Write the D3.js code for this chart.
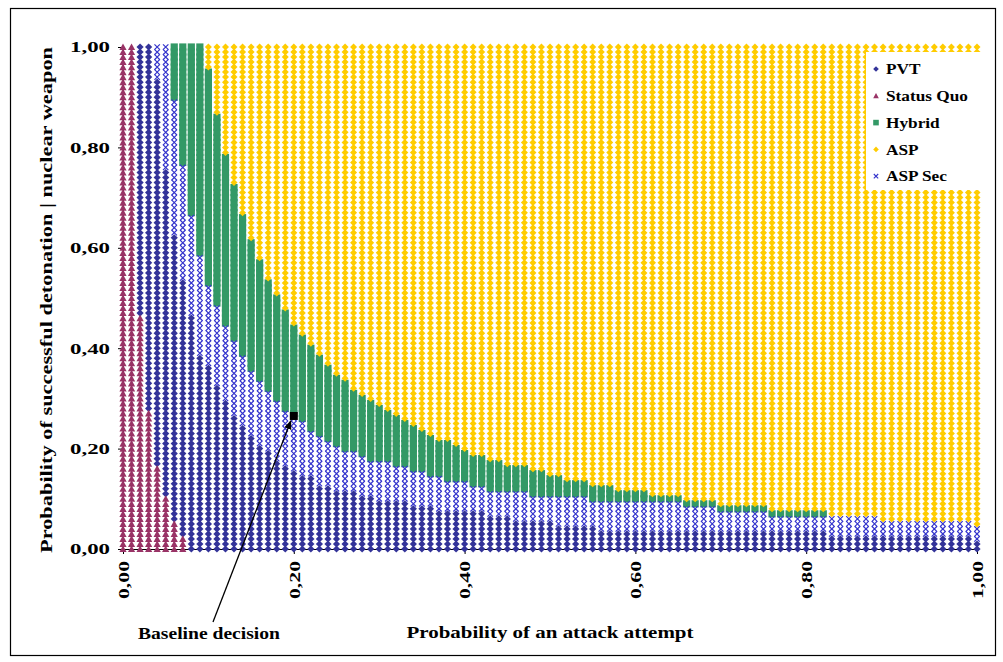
<!DOCTYPE html>
<html>
<head>
<meta charset="utf-8">
<script src="https://cdn.jsdelivr.net/npm/d3@7"></script>
<style>
  html, body { margin: 0; padding: 0; background: #fff; }
  svg { display: block; font-family: "Liberation Serif", "Times New Roman", serif; font-weight: bold; }
</style>
</head>
<body>
<svg id="chart" width="1003" height="662"></svg>
<script>
// Series, in drawing order (later ones sit on top)
const SERIES = ['PVT', 'Status Quo', 'Hybrid', 'ASP', 'ASP Sec'];
const LEGEND_ORDER = ['PVT', 'Status Quo', 'Hybrid', 'ASP', 'ASP Sec'];
const COLORS = {
  'PVT': '#333399',
  'Status Quo': '#993366',
  'Hybrid': '#339966',
  'ASP': '#ffcc00',
  'ASP Sec': '#3333cc',
};

const X_TICKS = [0, 0.2, 0.4, 0.6, 0.8, 1];
const Y_TICKS = [0, 0.2, 0.4, 0.6, 0.8, 1];

// sensitivity grid: attack probability (columns) x detonation probability (rows), step 0.01
const GRID_X = d3.range(0, 101).map(i => i / 100);
const GRID_Y = d3.range(0, 101).map(i => i / 100);

// per column: highest detonation probability where each decision is chosen
const statusQuoTop = [1.00, 1.00, 0.46, 0.27, 0.16, 0.10, 0.05, 0.02];

const pvtTop = [
  1.00, 1.00, 1.00, 1.00, 0.93, 0.75, 0.62, 0.53, 0.46, 0.38,
  0.36, 0.32, 0.29, 0.26, 0.24, 0.22, 0.20, 0.19, 0.17, 0.16,
  0.15, 0.14, 0.14, 0.12, 0.12, 0.11, 0.11, 0.11, 0.10, 0.10,
  0.09, 0.09, 0.09, 0.09, 0.08, 0.08, 0.08, 0.07, 0.07, 0.07,
  0.07, 0.07, 0.07, 0.06, 0.06, 0.06, 0.05, 0.05, 0.05, 0.05,
  0.05, 0.04, 0.04, 0.04, 0.04, 0.04, 0.03, 0.03, 0.03, 0.03,
  0.03, 0.03, 0.03, 0.03, 0.03, 0.03, 0.03, 0.03, 0.03, 0.03,
  0.03, 0.03, 0.03, 0.03, 0.03, 0.03, 0.03, 0.03, 0.03, 0.03,
  0.03, 0.03, 0.03, 0.02, 0.02, 0.02, 0.02, 0.02, 0.02, 0.02,
  0.02, 0.02, 0.02, 0.02, 0.02, 0.02, 0.02, 0.02, 0.02, 0.02,
  0.01,
];

const aspSecTop = [
  1.00, 1.00, 1.00, 1.00, 1.00, 1.00, 0.89, 0.76, 0.66, 0.58,
  0.52, 0.48, 0.44, 0.41, 0.38, 0.35, 0.33, 0.31, 0.29, 0.27,
  0.26, 0.25, 0.23, 0.22, 0.21, 0.20, 0.19, 0.19, 0.18, 0.17,
  0.17, 0.17, 0.16, 0.16, 0.15, 0.15, 0.14, 0.14, 0.13, 0.13,
  0.13, 0.12, 0.12, 0.11, 0.11, 0.11, 0.11, 0.11, 0.10, 0.10,
  0.10, 0.10, 0.10, 0.10, 0.10, 0.09, 0.09, 0.09, 0.09, 0.09,
  0.09, 0.09, 0.09, 0.09, 0.09, 0.09, 0.08, 0.08, 0.08, 0.08,
  0.07, 0.07, 0.07, 0.07, 0.07, 0.07, 0.06, 0.06, 0.06, 0.06,
  0.06, 0.06, 0.06, 0.06, 0.06, 0.06, 0.06, 0.06, 0.06, 0.05,
  0.05, 0.05, 0.05, 0.05, 0.05, 0.05, 0.05, 0.05, 0.05, 0.05,
  0.04,
];

const hybridTop = [
  1.00, 1.00, 1.00, 1.00, 1.00, 1.00, 1.00, 1.00, 1.00, 1.00,
  0.95, 0.86, 0.78, 0.72, 0.66, 0.61, 0.57, 0.53, 0.50, 0.47,
  0.44, 0.42, 0.40, 0.38, 0.36, 0.34, 0.33, 0.31, 0.30, 0.29,
  0.28, 0.27, 0.26, 0.25, 0.24, 0.23, 0.22, 0.21, 0.21, 0.20,
  0.19, 0.18, 0.18, 0.17, 0.17, 0.16, 0.16, 0.16, 0.15, 0.15,
  0.14, 0.14, 0.13, 0.13, 0.13, 0.12, 0.12, 0.12, 0.11, 0.11,
  0.11, 0.11, 0.10, 0.10, 0.10, 0.10, 0.09, 0.09, 0.09, 0.09,
  0.08, 0.08, 0.08, 0.08, 0.08, 0.08, 0.07, 0.07, 0.07, 0.07,
  0.07, 0.07, 0.07, 0.06, 0.06, 0.06, 0.06, 0.06, 0.06, 0.05,
  0.05, 0.05, 0.05, 0.05, 0.05, 0.05, 0.05, 0.05, 0.05, 0.05,
  0.04,
];

const BASELINE = { x: 0.20, y: 0.265, label: 'Baseline decision' };

const X_TITLE = 'Probability of an attack attempt';
const Y_TITLE = 'Probability of successful detonation | nuclear weapon';

function decide(i, y) {
  const e = 1e-6;
  if (statusQuoTop[i] != null && y <= statusQuoTop[i] + e) return 'Status Quo';
  if (y <= pvtTop[i] + e) return 'PVT';
  if (y <= aspSecTop[i] + e) return 'ASP Sec';
  if (y <= hybridTop[i] + e) return 'Hybrid';
  return 'ASP';
}

const cells = [];
GRID_X.forEach((x, i) => GRID_Y.forEach(y => cells.push({ x, y, s: decide(i, y) })));

// marker shapes (size = half width in px)
const diamond = { draw(c, r) { c.moveTo(0, -r); c.lineTo(r, 0); c.lineTo(0, r); c.lineTo(-r, 0); c.closePath(); } };
const square = { draw(c, r) { c.rect(-r, -r, 2 * r, 2 * r); } };
const triangle = { draw(c, r) { c.moveTo(0, -r); c.lineTo(r, r * 0.85); c.lineTo(-r, r * 0.85); c.closePath(); } };
const cross = { draw(c, r) { c.moveTo(-r, -r); c.lineTo(r, r); c.moveTo(r, -r); c.lineTo(-r, r); } };

const SHAPES = {
  'PVT': { type: diamond, r: 3.6, stroke: false },
  'Status Quo': { type: triangle, r: 3.6, stroke: false },
  'Hybrid': { type: square, r: 3.6, stroke: false },
  'ASP': { type: diamond, r: 3.5, stroke: false },
  'ASP Sec': { type: cross, r: 2.7, stroke: true },
};

const svg = d3.select('#chart');
const W = 1003, H = 662;
const margin = { top: 47, right: 26, bottom: 113, left: 123 };

const x = d3.scaleLinear().domain([0, 1]).range([margin.left, W - margin.right]);
const y = d3.scaleLinear().domain([0, 1]).range([H - margin.bottom, margin.top]);
const fmt = v => d3.format('.2f')(v).replace('.', ',');

// outer frame
svg.append('rect')
  .attr('x', 10.5).attr('y', 8.5).attr('width', 985).attr('height', 647)
  .attr('fill', '#fff').attr('stroke', '#000').attr('stroke-width', 1.2);

// axes
const xAxis = svg.append('g')
  .attr('transform', `translate(0,${y(0)})`)
  .call(d3.axisBottom(x).tickValues(X_TICKS).tickSize(5).tickFormat(fmt));
xAxis.selectAll('text')
  .attr('transform', 'rotate(-90)')
  .attr('text-anchor', 'end')
  .attr('x', -12).attr('y', 0).attr('dy', '0.35em')
  .attr('font-size', 15).attr('font-family', null)
  .attr('textLength', 38).attr('lengthAdjust', 'spacingAndGlyphs');

const yAxis = svg.append('g')
  .attr('transform', `translate(${x(0)},0)`)
  .call(d3.axisLeft(y).tickValues(Y_TICKS).tickSize(5).tickFormat(fmt));
yAxis.selectAll('text')
  .attr('x', -13)
  .attr('font-size', 15).attr('font-family', null)
  .attr('textLength', 40).attr('lengthAdjust', 'spacingAndGlyphs');

svg.selectAll('.domain, .tick line').attr('stroke', '#000');
svg.selectAll('.tick text').attr('fill', '#000');
svg.selectAll('g.tick').attr('font-family', null);
xAxis.attr('font-family', null);
yAxis.attr('font-family', null);

// grid markers, drawn series by series
const marks = svg.append('g');
for (const s of SERIES) {
  const sh = SHAPES[s];
  const d = d3.symbol().type(sh.type).size(sh.r)();
  marks.append('g')
    .selectAll('path')
    .data(cells.filter(c => c.s === s))
    .join('path')
    .attr('d', d)
    .attr('transform', c => `translate(${x(c.x)},${y(c.y)})`)
    .attr('fill', sh.stroke ? 'none' : COLORS[s])
    .attr('stroke', sh.stroke ? COLORS[s] : 'none')
    .attr('stroke-width', sh.stroke ? 1.2 : 0);
}

// legend
const lg = svg.append('g').attr('transform', 'translate(866,52)');
lg.append('rect').attr('width', 120).attr('height', 138).attr('fill', '#fff');
LEGEND_ORDER.forEach((s, k) => {
  const row = lg.append('g').attr('transform', `translate(10,${17 + k * 26.8})`);
  const sh = SHAPES[s];
  row.append('path')
    .attr('d', d3.symbol().type(sh.type).size(sh.stroke ? 2.2 : 2.8)())
    .attr('fill', sh.stroke ? 'none' : COLORS[s])
    .attr('stroke', sh.stroke ? COLORS[s] : 'none')
    .attr('stroke-width', 1.1);
  const t = row.append('text')
    .attr('x', 10).attr('dy', '0.35em')
    .attr('font-size', 15).attr('fill', '#000')
    .text(s);
  const w = t.node().getComputedTextLength();
  t.attr('textLength', w * 1.15).attr('lengthAdjust', 'spacingAndGlyphs');
});

// axis titles
svg.append('text')
  .attr('x', x(0.5)).attr('y', 638)
  .attr('text-anchor', 'middle').attr('font-size', 17).attr('fill', '#000')
  .attr('textLength', 287).attr('lengthAdjust', 'spacingAndGlyphs')
  .text(X_TITLE);

svg.append('text')
  .attr('transform', `translate(52,${(y(0) + y(1)) / 2 + 2}) rotate(-90)`)
  .attr('text-anchor', 'middle').attr('font-size', 16).attr('fill', '#000')
  .attr('textLength', 506).attr('lengthAdjust', 'spacingAndGlyphs')
  .text(Y_TITLE);

// baseline annotation
svg.append('defs').append('marker')
  .attr('id', 'arrow').attr('viewBox', '0 0 10 10')
  .attr('refX', 9).attr('refY', 5)
  .attr('markerWidth', 7).attr('markerHeight', 7)
  .attr('orient', 'auto')
  .append('path').attr('d', 'M0,1L10,5L0,9Z').attr('fill', '#000');

const bx = x(BASELINE.x), by = y(BASELINE.y);
svg.append('line')
  .attr('x1', 213).attr('y1', 622)
  .attr('x2', bx - 3).attr('y2', by + 5)
  .attr('stroke', '#000').attr('stroke-width', 1.3)
  .attr('marker-end', 'url(#arrow)');

svg.append('rect')
  .attr('x', bx - 4).attr('y', by - 4).attr('width', 8).attr('height', 8)
  .attr('fill', '#000');

svg.append('text')
  .attr('x', 138).attr('y', 639)
  .attr('font-size', 16).attr('fill', '#000')
  .attr('textLength', 142).attr('lengthAdjust', 'spacingAndGlyphs')
  .text(BASELINE.label);
</script>
</body>
</html>
